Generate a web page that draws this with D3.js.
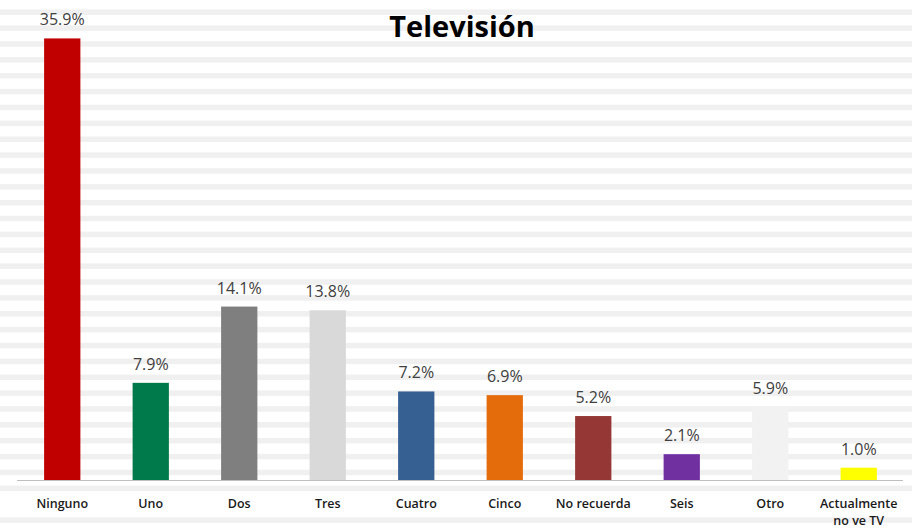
<!DOCTYPE html>
<html><head><meta charset="utf-8">
<script src="https://cdn.jsdelivr.net/npm/d3@7"></script>
<style>html,body{margin:0;padding:0;background:#fff;}svg{display:block;}</style>
</head><body>
<svg id="chart" width="912" height="528"></svg>
<script>
const categories = ["Ninguno","Uno","Dos","Tres","Cuatro","Cinco","No recuerda","Seis","Otro","Actualmente\nno ve TV"];
const values = [35.9, 7.9, 14.1, 13.8, 7.2, 6.9, 5.2, 2.1, 5.9, 1.0];
const colors = ["#c00000","#007a4b","#7f7f7f","#d9d9d9","#376092","#e46c0a","#953735","#7030a0","#f2f2f2","#ffff00"];
const title = "Televisión";

const W = 912, H = 528;
const svg = d3.select("#chart");
const base = 480;

// striped background
const stripes = d3.range(9.5, H, 15.87);
svg.append("g").selectAll("rect").data(stripes).join("rect")
  .attr("x", 0).attr("width", W).attr("y", d => d).attr("height", 5.5).attr("fill", "#f0f0f0");

// white band behind category labels
svg.append("rect").attr("x",0).attr("width",W).attr("y",493.5).attr("height",20).attr("fill","#fff");

const x = d3.scaleBand().domain(categories).range([18, 903]).paddingInner(0.59).paddingOuter(0.295);
const y = d3.scaleLinear().domain([0, 36]).range([base, base - 36*12.3]);

const data = categories.map((c,i)=>({c, v: values[i], col: colors[i]}));

svg.append("g").selectAll("rect").data(data).join("rect")
  .attr("x", d => x(d.c)).attr("width", x.bandwidth())
  .attr("y", d => y(d.v)).attr("height", d => base - y(d.v))
  .attr("fill", d => d.col);

// baseline
svg.append("line").attr("x1", 17).attr("x2", 903).attr("y1", base+0.5).attr("y2", base+0.5)
  .attr("stroke", "#bfbfbf").attr("stroke-width", 1);

// value labels
svg.append("g").selectAll("text").data(data).join("text")
  .attr("x", d => x(d.c) + x.bandwidth()/2)
  .attr("y", d => y(d.v) - 13)
  .attr("text-anchor", "middle")
  .attr("font-family", "Open Sans, sans-serif")
  .attr("font-size", 16)
  .attr("fill", "#404040")
  .text(d => d.v.toFixed(1) + "%");

// category labels
const cl = svg.append("g").selectAll("text").data(data).join("text")
  .attr("x", d => x(d.c) + x.bandwidth()/2)
  .attr("y", 507.5)
  .attr("text-anchor", "middle")
  .attr("font-family", "Open Sans, sans-serif")
  .attr("font-size", 12.5)
  .attr("font-weight", 600)
  .attr("fill", "#1a1a1a");
cl.each(function(d){
  const lines = d.c.split("\n");
  const t = d3.select(this);
  lines.forEach((ln,i)=>{
    t.append("tspan").attr("x", x(d.c) + x.bandwidth()/2).attr("dy", i===0?0:17).text(ln);
  });
});

// title
svg.append("text").attr("x", 462).attr("y", 37).attr("text-anchor","middle")
  .attr("font-family","Open Sans, sans-serif").attr("font-weight",700).attr("font-size",29)
  .attr("fill","#000").text(title);
</script>
</body></html>
